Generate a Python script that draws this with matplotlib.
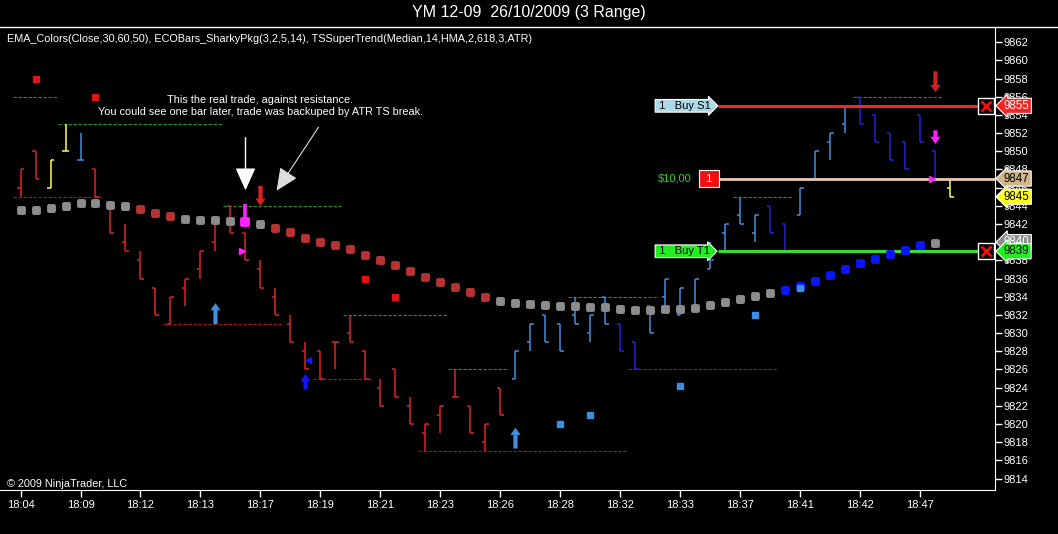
import matplotlib.pyplot as plt
import matplotlib.transforms as mtransforms
from matplotlib.lines import Line2D
from matplotlib.markers import MarkerStyle
import numpy as np

plt.rcParams['font.family'] = ['Liberation Sans', 'DejaVu Sans']

# ---------------- data ----------------
# range bars (3 range): high, low, open, close
highs = [9848, 9850, 9849, 9853, 9852, 9848, 9844, 9842, 9839, 9835,
         9834, 9836, 9839, 9842, 9844, 9841, 9838, 9835, 9832, 9829,
         9828, 9829, 9832, 9828, 9825, 9826, 9823, 9820, 9822, 9826,
         9822, 9820, 9824, 9828, 9831, 9832, 9831, 9834, 9832, 9834,
         9831, 9829, 9833, 9836, 9835, 9836, 9840, 9842, 9845, 9843,
         9844, 9842, 9846, 9850, 9852, 9855, 9856, 9854, 9852, 9851,
         9854, 9850, 9847]
lows = [9845, 9847, 9846, 9850, 9849, 9845, 9841, 9839, 9836, 9832,
        9831, 9833, 9836, 9839, 9841, 9838, 9835, 9832, 9829, 9826,
        9825, 9826, 9829, 9825, 9822, 9823, 9820, 9817, 9819, 9823,
        9819, 9817, 9821, 9825, 9828, 9829, 9828, 9831, 9829, 9831,
        9828, 9826, 9830, 9833, 9832, 9833, 9837, 9839, 9842, 9840,
        9841, 9839, 9843, 9847, 9849, 9852, 9853, 9851, 9849, 9848,
        9851, 9847, 9845]
opens = [9846, 9850, 9846, 9850, 9849, 9848, 9844, 9840, 9838, 9835,
         9831, 9835, 9837, 9840, 9844, 9841, 9837, 9834, 9831, 9828,
         9828, 9829, 9830, 9828, 9824, 9826, 9822, 9819, 9821, 9823,
         9822, 9818, 9824, 9825, 9829, 9832, 9831, 9832, 9830, 9834,
         9831, 9829, 9833, 9834, 9832, 9833, 9837, 9841, 9843, 9841,
         9844, 9842, 9843, 9847, 9851, 9853, 9856, 9854, 9852, 9851,
         9854, 9850, 9846]
closes = [9848, 9847, 9849, 9850, 9849, 9845, 9841, 9839, 9836, 9832,
          9834, 9836, 9839, 9842, 9841, 9838, 9835, 9832, 9829, 9826,
          9825, 9829, 9829, 9825, 9822, 9823, 9820, 9820, 9822, 9823,
          9819, 9820, 9821, 9828, 9831, 9829, 9828, 9831, 9832, 9831,
          9828, 9826, 9830, 9836, 9835, 9836, 9838, 9842, 9842, 9843,
          9841, 9839, 9846, 9850, 9852, 9855, 9853, 9851, 9849, 9848,
          9851, 9847, 9845]
# bar colour codes: r red, y yellow, c light blue, b dark blue
bar_codes = ('rryycr' + 'r' * 27 + 'c' * 7 + 'bb' + 'c' * 8 + 'bb' + 'cccc'
             + 'bbbbbb' + 'y')

# EMA_Colors dots
ema = [9843.5, 9843.5, 9843.8, 9844.0, 9844.3, 9844.3, 9844.1, 9844.0,
       9843.7, 9843.2, 9842.9, 9842.55, 9842.4, 9842.4, 9842.3, 9842.25,
       9841.97, 9841.56, 9841.1, 9840.46, 9840.05, 9839.66, 9839.2, 9838.6,
       9838.04, 9837.5, 9836.8, 9836.2, 9835.65, 9835.1, 9834.55, 9834.0,
       9833.56, 9833.34, 9833.2, 9833.1, 9833.0, 9833.0, 9832.9, 9832.9,
       9832.7, 9832.5, 9832.55, 9832.6, 9832.7, 9832.8, 9833.07, 9833.43,
       9833.73, 9834.06, 9834.43, 9834.72, 9835.2, 9835.75, 9836.4, 9837.1,
       9837.7, 9838.2, 9838.65, 9839.1, 9839.7, 9839.94]
ema_codes = ('g' * 8 + 'rrr' + 'gggg' + 'm' + 'g' + 'r' * 15 + 'g' * 19
             + 'b' * 10 + 'g')

time_labels = ['18:04', '18:09', '18:12', '18:13', '18:17', '18:19', '18:21',
               '18:23', '18:26', '18:28', '18:32', '18:33', '18:37', '18:41',
               '18:42', '18:47']

# resistance (green) / support (red) levels: (start bar, end bar, price)
resist = [(-0.5, 2.5, 9856), (2.5, 13.5, 9853), (13.5, 21.5, 9844),
          (21.5, 28.5, 9832), (28.5, 32.5, 9826), (36.5, 42.5, 9834),
          (47.5, 51.5, 9845), (55.5, 61.5, 9856)]
support = [(-0.5, 5.5, 9845), (9.5, 17.5, 9831), (19.5, 23.5, 9825),
           (26.5, 40.5, 9817), (40.5, 50.5, 9826)]

red_sq_x = [1, 5, 23, 25]
red_sq_y = [9858, 9856, 9836, 9834]
blue_sq_x = [36, 38, 44, 49, 52]
blue_sq_y = [9820, 9821, 9824.2, 9832, 9835]

# signal arrows: (bar, tail price, tip price, colour)
arrows = [(13, 9831.0, 9833.3, '#3f8fe0'), (33, 9817.3, 9819.6, '#3f8fe0'),
          (19, 9823.8, 9825.5, '#1414ff'), (16, 9846.2, 9844.0, '#e02020'),
          (61, 9858.8, 9856.5, '#d02020'), (61, 9852.3, 9850.8, '#ff20ff')]

stop_price, entry_price, target_price = 9855, 9847, 9839
last_close, last_ema = 9845, 9840

# ---------------- figure ----------------
W, H = 1058, 534
fig = plt.figure(figsize=(W / 100, H / 100), dpi=100, facecolor='black')
ax = fig.add_axes([0, 44 / H, 995 / W, 463 / H], facecolor='black')
ax.set_xlim(-1.367, 64.97)
ax.set_ylim(9812.74, 9863.67)

n = len(highs)
x = np.arange(n)
bar_col = {'r': '#dd2424', 'y': '#ffff44', 'c': '#3f8fe0', 'b': '#2222d8'}
cols = [bar_col[c] for c in bar_codes]

# support / resistance lines
for a, b, p in resist:
    ax.hlines(p, a, b, color='#1f9a1f', lw=0.8, linestyles=(0, (3, 1.5)))
for a, b, p in support:
    ax.hlines(p, a, b, color='#a81818', lw=0.8, linestyles=(0, (3, 1.5)))

# OHLC bars
ax.vlines(x, lows, highs, colors=cols, lw=1.1)
ax.hlines(opens, x - 0.22, x, colors=cols, lw=1.1)
ax.hlines(closes, x, x + 0.22, colors=cols, lw=1.1)

# EMA dots
dot_col = {'g': '#8c8c8c', 'r': '#b83232', 'b': '#0a14ff', 'm': '#ff22ff'}
dot_marker = MarkerStyle('s', joinstyle='round')
for i, (v, c) in enumerate(zip(ema, ema_codes)):
    ax.plot(i, v, marker=dot_marker, ms=3.6 if c != 'm' else 4.6, mew=2.8,
            color=dot_col[c], mec=dot_col[c], zorder=4)
# magenta stem above the signal dot
ax.vlines(15, ema[15] + 0.4, ema[15] + 1.9, color='#ff22ff', lw=2.6, zorder=4)

ax.plot(red_sq_x, red_sq_y, 's', color='#e01414', ms=4, ls='none')
ax.plot(blue_sq_x, blue_sq_y, 's', color='#3a8ee0', ms=4, ls='none', zorder=5)

# small triangles
ax.plot([14.8, 60.8], [9839.0, 9847.0], '>', color='#ff22ff', ms=5, zorder=6)
ax.plot([19.2], [9827.0], '<', color='#1414ff', ms=5, zorder=6)

# block arrows (head 7px long, 10px wide, body 4px)
for bx, p0, p1, c in arrows:
    d = np.sign(p1 - p0)
    hl, hw, bw = 0.8, 0.34, 0.14
    neck = p1 - d * hl
    xs = [bx - bw, bx - bw, bx - hw, bx, bx + hw, bx + bw, bx + bw]
    ys = [p0, neck, neck, p1, neck, neck, p0]
    ax.fill(xs, ys, color=c, lw=0, zorder=6)

# white comment arrows + text
ax.annotate('', xy=(15.0, 9845.4), xytext=(15.0, 9851.8),
            arrowprops=dict(arrowstyle='-|>,head_width=0.45,head_length=1.0',
                            color='white', lw=1, mutation_scale=14))
ax.annotate('', xy=(16.97, 9845.4), xytext=(19.97, 9852.9),
            arrowprops=dict(arrowstyle='-|>,head_width=0.45,head_length=1.0',
                            color='#dddddd', lw=0.8, mutation_scale=14))
ax.text(16.0, 9855.0, 'This the real trade, against resistance.\n'
        'You could see one bar later, trade was backuped by ATR TS break.',
        color='white', fontsize=7.8, ha='center', va='center', linespacing=1.2)

# trade lines
x_end = 63.83
ax.hlines(stop_price, 46.5, x_end, color='#ff2020', lw=2.2, zorder=3)
ax.hlines(target_price, 46.5, x_end, color='#33dd33', lw=2.2, zorder=3)
ax.hlines(entry_price, 46.5, 64.97, color='#e8c8b0', lw=2, zorder=3)

for p, fc in [(stop_price, '#add8e6'), (target_price, '#22ee22')]:
    name = 'Buy S1' if p == stop_price else 'Buy T1'
    ax.text(42.4, p, ' 1   ' + name, fontsize=8, color='black', ha='left',
            va='center', zorder=7,
            bbox=dict(boxstyle='rarrow,pad=0.12', fc=fc, ec='white', lw=0.8))
    ax.plot(64.4, p, 's', ms=11, mfc='black', mec='white', mew=1, zorder=7)
    ax.plot(64.4, p, 'x', ms=7, color='#ee1111', mew=2, zorder=8)

ax.text(43.6, entry_price, '$10,00', color='#22dd22', fontsize=8,
        ha='center', va='center')
ax.text(45.9, entry_price, ' 1 ', color='white', fontsize=8, ha='center',
        va='center', zorder=7,
        bbox=dict(boxstyle='square,pad=0.3', fc='#ee1111', ec='white', lw=0.8))

# axes styling
for s in ['top', 'left']:
    ax.spines[s].set_visible(False)
for s in ['bottom', 'right']:
    ax.spines[s].set_color('white')
ax.yaxis.tick_right()
ax.set_yticks(np.arange(9814, 9863, 2))
ax.set_xticks(np.arange(0, 61, 4))
ax.set_xticklabels(time_labels)
ax.tick_params(colors='white', labelsize=8, length=5, width=1)
ax.tick_params(axis='y', pad=1)
ax.tick_params(axis='x', pad=2)

# price tags on the right
tr = mtransforms.blended_transform_factory(fig.transFigure, ax.transData)
tags = [(last_ema, '#8c8c8c', 'white', str(last_ema)),
        (stop_price, '#ff2020', 'white', str(stop_price)),
        (entry_price, '#d2b48c', 'black', str(entry_price)),
        (last_close, '#ffff22', 'black', str(last_close)),
        (target_price, '#22ee22', 'black', str(target_price))]
for p, fc, tc, lab in tags:
    ax.text(1004 / W, p, lab, transform=tr, fontsize=8.3, color=tc,
            ha='left', va='center', clip_on=False, zorder=9,
            bbox=dict(boxstyle='larrow,pad=0.14', fc=fc, ec='white', lw=0.8))

# header and footer texts
fig.add_artist(Line2D([0, 1], [1 - 27 / H] * 2, color='white', lw=1))
fig.text(529 / W, 1 - 13 / H, 'YM 12-09  26/10/2009 (3 Range)', color='white',
         fontsize=11.5, ha='center', va='center')
fig.text(7 / W, 1 - 39 / H,
         'EMA_Colors(Close,30,60,50), ECOBars_SharkyPkg(3,2,5,14), '
         'TSSuperTrend(Median,14,HMA,2,618,3,ATR)',
         color='white', fontsize=7.8, ha='left', va='center')
fig.text(7 / W, 1 - 484 / H, '\u00a9 2009 NinjaTrader, LLC', color='white',
         fontsize=7.8, ha='left', va='center')

fig.savefig('out.png', dpi=100, facecolor='black')
